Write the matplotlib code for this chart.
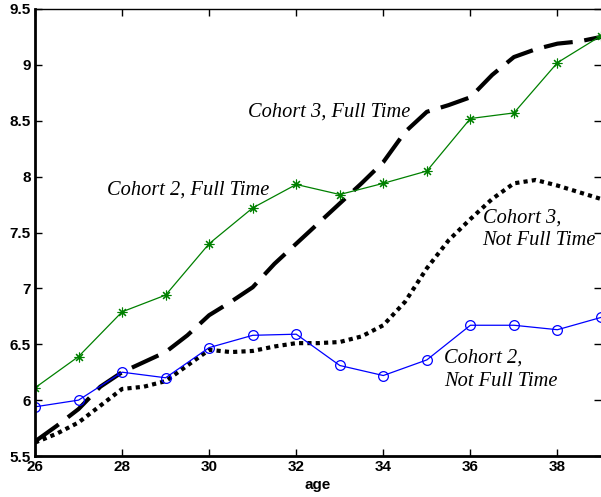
import matplotlib
matplotlib.use("Agg")
import matplotlib.pyplot as plt
import numpy as np

# yearly series (markers)
ages = [26, 27, 28, 29, 30, 31, 32, 33, 34, 35, 36, 37, 38, 39]
c2_full = [6.11, 6.39, 6.79, 6.94, 7.40, 7.72, 7.93, 7.84, 7.94, 8.05, 8.52, 8.57, 9.02, 9.26]
c2_part = [5.94, 6.00, 6.25, 6.20, 6.47, 6.58, 6.59, 6.31, 6.22, 6.36, 6.67, 6.67, 6.63, 6.74]

# smooth curves read at half-year steps
ages_half = [26.0, 26.5, 27.0, 27.5, 28.0, 28.5, 29.0, 29.5, 30.0, 30.5, 31.0, 31.5, 32.0, 32.5,
             33.0, 33.5, 34.0, 34.5, 35.0, 35.5, 36.0, 36.5, 37.0, 37.5, 38.0, 38.5, 39.0]
c3_full = [5.63, 5.77, 5.92, 6.12, 6.25, 6.34, 6.43, 6.58, 6.76, 6.88, 7.01, 7.22, 7.40, 7.58,
           7.76, 7.94, 8.13, 8.40, 8.58, 8.64, 8.71, 8.91, 9.07, 9.14, 9.19, 9.21, 9.25]
c3_part = [5.62, 5.70, 5.80, 5.95, 6.10, 6.12, 6.17, 6.31, 6.45, 6.43, 6.44, 6.48, 6.51, 6.51,
           6.52, 6.57, 6.67, 6.88, 7.18, 7.43, 7.62, 7.80, 7.94, 7.97, 7.92, 7.86, 7.80]

xticks = [26, 28, 30, 32, 34, 36, 38]
yticks = [5.5, 6, 6.5, 7, 7.5, 8, 8.5, 9, 9.5]
ytick_labels = ["5.5", "6", "6.5", "7", "7.5", "8", "8.5", "9", "9.5"]

fig = plt.figure(figsize=(6.01, 4.97), dpi=100)
ax = fig.add_axes([35/601, 41/497, 566/601, 447/497])

ax.plot(ages_half, c3_full, color="black", lw=3, dashes=(7, 2.8), dash_capstyle="butt")
ax.plot(ages_half, c3_part, color="black", lw=3, dashes=(1, 1), dash_capstyle="butt")
ax.plot(ages, c2_full, color="#008000", lw=0.9, marker=(8, 2, 0), ms=7, mew=0.8)
ax.plot(ages, c2_part, color="#0000ff", lw=0.9, marker="o", ms=7, mfc="none", mew=0.9)

tfont = dict(family="Liberation Serif", style="italic", fontsize=14.7)
ax.text(30.9, 8.58, "Cohort 3, Full Time", va="center", ha="left", **tfont)
ax.text(27.66, 7.88, "Cohort 2, Full Time", va="center", ha="left", **tfont)
ax.text(36.28, 7.53, "Cohort 3,\nNot Full Time", va="center", ha="left", linespacing=1.3, **tfont)
ax.text(35.4, 6.27, "Cohort 2,\nNot Full Time", va="center", ha="left", linespacing=1.3, **tfont)

ax.set_xlim(26, 39)
ax.set_ylim(5.5, 9.5)
ax.set_xticks(xticks)
ax.set_yticks(yticks)
ax.set_yticklabels(ytick_labels)
ax.tick_params(direction="in", length=5, width=1, top=True, right=True, pad=3)
for lab in ax.get_xticklabels() + ax.get_yticklabels():
    lab.set_fontfamily("Liberation Sans")
    lab.set_fontweight("bold")
    lab.set_fontsize(11)
ax.set_xlabel("age", fontfamily="Liberation Sans", fontweight="bold", fontsize=11, labelpad=3)

ax.spines["left"].set_linewidth(2)
ax.spines["bottom"].set_linewidth(2)
ax.spines["top"].set_linewidth(1)
ax.spines["right"].set_visible(False)

fig.savefig("out.png", dpi=100)
